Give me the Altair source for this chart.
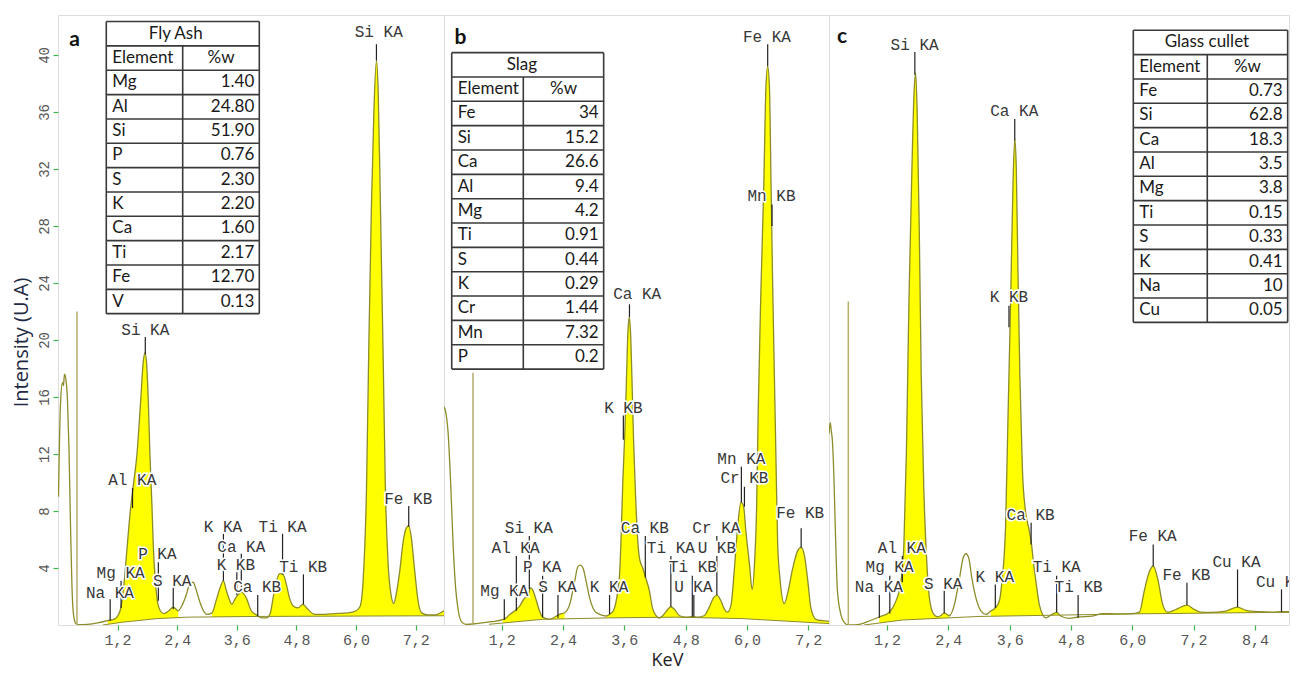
import altair as alt
import pandas as pd

YMAX = 42.8
H = 610
RH = 1.708
GREEN = "#3db54a"
YELLOW = "#ffff00"
OLIVE = "#8c8c2a"
MONO = "Liberation Mono"
SANS = "Lato"

# ---------------- spectra (keV, intensity) ----------------
A_SPEC = [(0.01, 9.0), (0.05, 15.5), (0.09, 17.0), (0.11, 16.8), (0.13, 17.6), (0.16, 17.2), (0.19, 15.8),
          (0.22, 12.5), (0.25, 7.3), (0.28, 2.8), (0.31, 0.8), (0.35, 0.15), (0.40, 0.02), (0.60, 0.05),
          (0.80, 0.15), (1.00, 0.3), (1.15, 0.45), (1.25, 1.0), (1.32, 2.6), (1.39, 5.4), (1.45, 7.8),
          (1.52, 9.9), (1.59, 12.0), (1.66, 15.5), (1.72, 18.6), (1.75, 19.1), (1.78, 18.5), (1.82, 15.5),
          (1.85, 12.0), (1.89, 8.5), (1.92, 5.4), (1.96, 3.1), (2.00, 1.7), (2.06, 1.0), (2.13, 0.8),
          (2.23, 1.0), (2.32, 1.25), (2.42, 1.0), (2.50, 1.4), (2.57, 2.0), (2.66, 2.9), (2.72, 3.0),
          (2.77, 2.6), (2.83, 1.9), (2.90, 1.2), (3.00, 0.75), (3.10, 0.85), (3.19, 1.8), (3.26, 2.6),
          (3.33, 3.1), (3.39, 2.4), (3.46, 1.7), (3.50, 1.45), (3.56, 1.8), (3.63, 2.15), (3.69, 2.3),
          (3.79, 1.9), (3.89, 1.0), (4.00, 0.7), (4.10, 0.5), (4.20, 0.5), (4.27, 0.8), (4.33, 1.9),
          (4.40, 3.1), (4.46, 3.6), (4.53, 3.55), (4.60, 2.8), (4.66, 1.9), (4.73, 1.35), (4.83, 1.2),
          (4.93, 1.45), (5.03, 1.1), (5.17, 0.75), (5.37, 0.75), (5.57, 0.8), (5.84, 0.85), (6.00, 1.0),
          (6.08, 1.3), (6.14, 3.0), (6.21, 9.6), (6.26, 20.3), (6.31, 29.5), (6.36, 36.2), (6.41, 39.6),
          (6.445, 37.5), (6.49, 29.5), (6.545, 18.9), (6.59, 9.6), (6.645, 4.3), (6.70, 2.2), (6.76, 1.5),
          (6.81, 2.2), (6.88, 3.8), (6.95, 5.9), (7.01, 6.8), (7.06, 6.95), (7.11, 6.2), (7.18, 3.8),
          (7.25, 1.65), (7.32, 0.85), (7.45, 0.7), (7.58, 0.7), (7.77, 1.0)]

B_SPEC = [(0.07, 15.3), (0.10, 15.0), (0.15, 13.5), (0.20, 10.0), (0.25, 5.5), (0.30, 2.5), (0.35, 1.0),
          (0.42, 0.2), (0.50, 0.05), (0.70, 0.1), (1.00, 0.23), (1.22, 0.37), (1.30, 0.55), (1.36, 0.75),
          (1.45, 0.98), (1.55, 1.33), (1.65, 1.9), (1.71, 2.0), (1.76, 2.6), (1.80, 2.5), (1.88, 1.68),
          (1.94, 0.98), (2.00, 0.55), (2.14, 0.4), (2.27, 0.63), (2.33, 0.75), (2.43, 0.86), (2.53, 1.45),
          (2.63, 3.1), (2.69, 4.1), (2.74, 4.2), (2.79, 4.0), (2.85, 3.1), (2.92, 1.9), (3.02, 0.98),
          (3.12, 0.75), (3.25, 0.63), (3.31, 0.75), (3.38, 0.98), (3.44, 1.7), (3.51, 3.8), (3.54, 6.6),
          (3.57, 10.1), (3.61, 13.6), (3.64, 17.1), (3.67, 20.6), (3.695, 21.6), (3.72, 20.6), (3.75, 17.1),
          (3.78, 13.0), (3.82, 9.0), (3.86, 6.0), (3.90, 4.6), (3.96, 4.0), (4.01, 3.4), (4.09, 2.4),
          (4.15, 1.2), (4.22, 0.65), (4.28, 0.48), (4.35, 0.65), (4.45, 1.1), (4.51, 1.28), (4.58, 1.1),
          (4.68, 0.65), (4.81, 0.55), (4.94, 0.6), (5.03, 0.55), (5.16, 0.65), (5.26, 1.24), (5.35, 1.94),
          (5.41, 2.1), (5.49, 1.7), (5.56, 1.1), (5.62, 0.9), (5.69, 1.45), (5.75, 3.8), (5.82, 7.0),
          (5.88, 8.6), (5.93, 8.4), (5.98, 6.5), (6.05, 4.2), (6.10, 2.5), (6.15, 4.5), (6.19, 8.5),
          (6.22, 15.1), (6.27, 23.1), (6.33, 31.1), (6.37, 37.7), (6.405, 39.2), (6.44, 37.7), (6.47, 31.1),
          (6.50, 24.4), (6.535, 17.7), (6.57, 11.1), (6.60, 5.75), (6.65, 3.1), (6.73, 1.5), (6.80, 2.3),
          (6.89, 3.9), (6.99, 5.2), (7.06, 5.45), (7.12, 4.95), (7.19, 3.1), (7.25, 1.2), (7.35, 0.4),
          (7.48, 0.3), (7.605, 0.25)]

C_SPEC = [(0.065, 13.4), (0.09, 14.2), (0.11, 13.6), (0.13, 13.0), (0.16, 10.5), (0.19, 6.6), (0.23, 2.4),
          (0.30, 0.7), (0.37, 0.15), (0.45, 0.0), (0.66, 0.05), (0.85, 0.28), (1.05, 0.56), (1.245, 0.9),
          (1.37, 1.64), (1.47, 3.0), (1.53, 5.6), (1.58, 12.2), (1.63, 22.8), (1.68, 30.8), (1.73, 37.4),
          (1.76, 38.7), (1.79, 36.1), (1.83, 28.1), (1.87, 17.5), (1.92, 9.6), (1.98, 4.3), (2.03, 1.9),
          (2.10, 0.84), (2.18, 0.58), (2.25, 0.65), (2.32, 0.85), (2.42, 0.65), (2.52, 1.45), (2.615, 3.2),
          (2.69, 4.7), (2.745, 5.0), (2.80, 4.7), (2.86, 3.3), (2.94, 1.9), (3.04, 0.98), (3.14, 0.74),
          (3.23, 0.98), (3.32, 1.2), (3.40, 1.7), (3.45, 3.1), (3.52, 6.9), (3.57, 14.9), (3.62, 22.8),
          (3.665, 30.8), (3.70, 34.1), (3.73, 32.1), (3.76, 25.5), (3.80, 17.5), (3.85, 10.9), (3.91, 8.0),
          (3.98, 6.7), (4.03, 5.6), (4.06, 4.6), (4.12, 2.9), (4.18, 1.45), (4.25, 0.7), (4.31, 0.5),
          (4.41, 0.7), (4.52, 0.88), (4.60, 0.63), (4.77, 0.47), (4.94, 0.56), (5.22, 0.63), (5.42, 0.8),
          (5.68, 0.78), (6.01, 0.8), (6.14, 0.9), (6.235, 2.4), (6.33, 3.7), (6.41, 4.14), (6.50, 3.2),
          (6.595, 1.45), (6.69, 0.9), (6.76, 0.95), (6.89, 1.15), (7.07, 1.4), (7.21, 1.1), (7.34, 0.9),
          (7.51, 0.88), (7.83, 0.98), (8.06, 1.26), (8.22, 1.03), (8.48, 0.93), (8.75, 0.9), (8.92, 0.93),
          (9.20, 0.93)]

# background (continuum) lines
A_BG = [(0.9, 0.0), (1.3, 0.2), (2.0, 0.45), (2.6, 0.55), (4.0, 0.6), (7.77, 0.65)]
B_BG = [(0.95, 0.05), (2.0, 0.4), (3.3, 0.5), (4.6, 0.55), (5.9, 0.45), (7.605, 0.1)]
C_BG = [(0.75, 0.0), (1.5, 0.35), (3.0, 0.6), (6.0, 0.78), (9.2, 0.9)]

# energy ranges filled in yellow
A_FILL = [(0.95, 2.47), (3.02, 7.77)]
B_FILL = [(1.1, 2.45), (3.2, 7.61)]
C_FILL = [(0.95, 2.45), (3.15, 9.2)]

# zero-peak marker (keV, height)
A_ZERO = (0.382, 22.0)
B_ZERO = (0.637, 17.7)
C_ZERO = (0.443, 22.7)

# peak labels: text, text x, text y, marker x, marker bottom, marker top
A_LAB = [("Na KA", 1.045, 2.27, 1.05, 0.3, 1.8), ("Mg KA", 1.26, 3.63, 1.27, 1.2, 3.1),
         ("Al KA", 1.495, 10.2, 1.50, 8.2, 9.6), ("Si KA", 1.757, 20.7, 1.757, 19.0, 20.2),
         ("P KA", 2.0, 5.0, 2.02, 1.7, 4.4), ("S KA", 2.30, 3.1, 2.32, 1.1, 2.6),
         ("K KA", 3.32, 6.9, 3.33, 3.1, 6.4), ("Ca KA", 3.69, 5.5, 3.69, 2.3, 5.0),
         ("K KB", 3.58, 4.2, 3.60, 2.1, 3.7), ("Ca KB", 4.01, 2.7, 4.02, 0.6, 2.1),
         ("Ti KA", 4.52, 6.9, 4.52, 3.55, 6.4), ("Ti KB", 4.935, 4.07, 4.94, 1.45, 3.55),
         ("Fe KB", 7.05, 8.87, 7.06, 6.9, 8.35), ("Si KA", 6.457, 41.6, 6.41, 39.6, 40.75)]
B_LAB = [("Mg KA", 1.25, 2.39, 1.25, 0.35, 1.8), ("Al KA", 1.47, 5.42, 1.486, 1.0, 4.85),
         ("Si KA", 1.73, 6.78, 1.74, 2.5, 6.25), ("P KA", 1.99, 4.04, 2.0, 0.55, 3.45),
         ("S KA", 2.29, 2.67, 2.30, 0.5, 2.1), ("K KA", 3.30, 2.67, 3.31, 0.75, 2.1),
         ("K KB", 3.58, 15.25, 3.58, 13.0, 14.7), ("Ca KA", 3.85, 23.25, 3.70, 21.6, 22.5),
         ("Ca KB", 4.0, 6.78, 4.01, 3.33, 6.25), ("Ti KA", 4.51, 5.42, 4.51, 1.28, 4.85),
         ("Ti KB", 4.94, 4.04, 4.93, 0.6, 3.45), ("U KA", 4.95, 2.67, 4.96, 0.6, 2.1),
         ("U KB", 5.41, 5.42, 5.41, 2.1, 4.85), ("Cr KA", 5.40, 6.78, 5.41, 5.9, 6.25),
         ("Mn KA", 5.89, 11.67, 5.89, 8.6, 11.1), ("Cr KB", 5.95, 10.3, 5.95, 8.3, 9.7),
         ("Mn KB", 6.48, 30.1, 6.49, 28.0, 29.5), ("Fe KA", 6.39, 41.26, 6.405, 39.2, 40.75),
         ("Fe KB", 7.04, 7.84, 7.06, 5.42, 6.78)]
C_LAB = [("Na KA", 1.04, 2.67, 1.05, 0.5, 2.1), ("Mg KA", 1.25, 4.04, 1.255, 0.8, 3.45),
         ("Al KA", 1.49, 5.38, 1.50, 3.0, 4.85), ("Si KA", 1.74, 40.7, 1.745, 38.6, 40.2),
         ("S KA", 2.30, 2.9, 2.32, 0.8, 2.4), ("K KA", 3.31, 3.35, 3.32, 1.2, 2.85),
         ("K KB", 3.587, 23.0, 3.587, 20.9, 22.4), ("Ca KA", 3.69, 36.07, 3.70, 34.0, 35.5),
         ("Ca KB", 4.01, 7.72, 4.02, 5.65, 7.17), ("Ti KA", 4.52, 4.07, 4.52, 0.88, 3.45),
         ("Ti KB", 4.95, 2.67, 4.94, 0.5, 2.1), ("Fe KA", 6.40, 6.25, 6.41, 4.13, 5.65),
         ("Fe KB", 7.06, 3.51, 7.07, 1.4, 2.97), ("Cu KA", 8.04, 4.42, 8.06, 1.26, 3.9),
         ("Cu KB", 8.89, 3.04, 8.92, 0.93, 2.5)]

# composition tables
A_TITLE = "Fly Ash"
A_EL = ["Mg", "Al", "Si", "P", "S", "K", "Ca", "Ti", "Fe", "V"]
A_VAL = ["1.40", "24.80", "51.90", "0.76", "2.30", "2.20", "1.60", "2.17", "12.70", "0.13"]
B_TITLE = "Slag"
B_EL = ["Fe", "Si", "Ca", "Al", "Mg", "Ti", "S", "K", "Cr", "Mn", "P"]
B_VAL = ["34", "15.2", "26.6", "9.4", "4.2", "0.91", "0.44", "0.29", "1.44", "7.32", "0.2"]
C_TITLE = "Glass cullet"
C_EL = ["Fe", "Si", "Ca", "Al", "Mg", "Ti", "S", "K", "Na", "Cu"]
C_VAL = ["0.73", "62.8", "18.3", "3.5", "3.8", "0.15", "0.33", "0.41", "10", "0.05"]

# table placement (left, split, right, top, title x) in panel data units
A_TPOS = (0.972, 2.510, 4.052, 42.34, 2.37)
B_TPOS = (0.221, 1.622, 3.195, 40.16, 1.596)
C_TPOS = (6.02, 7.468, 9.041, 41.73, 7.46)

Y_TICKS = [4, 8, 12, 16, 20, 24, 28, 32, 36, 40]
X_TICKS = [1.2, 2.4, 3.6, 4.8, 6.0, 7.2, 8.4]
LABEL_EXPR = "replace(format(datum.value, '.1f'), '.', ',')"


def panel(spec, bg, segs, labels, zero, title, els, vals, tpos, letter, lpos, xdom, width, yaxis, xaxis):
    sdf = pd.DataFrame(spec, columns=["e", "i"])
    sdf["seg"] = -1
    for k, (s0, s1) in enumerate(segs):
        sdf.loc[(sdf.e >= s0) & (sdf.e <= s1), "seg"] = k
    fdf = sdf[sdf.seg >= 0]
    bdf = pd.DataFrame(bg, columns=["e", "b"])
    ldf = pd.DataFrame(labels, columns=["t", "tx", "ty", "lx", "lo", "hi"])
    zdf = pd.DataFrame([{"e": zero[0], "lo": 0.0, "hi": zero[1]}])

    xs = alt.Scale(domain=list(xdom), nice=False, zero=False)
    ys = alt.Scale(domain=[0, YMAX], nice=False)

    def X(f):
        return alt.X(f"{f}:Q", scale=xs, axis=xaxis)

    def Y(f):
        return alt.Y(f"{f}:Q", scale=ys, axis=yaxis)

    fill = alt.Chart(fdf).mark_area(color=YELLOW, interpolate="monotone", clip=True).encode(
        x=X("e"), y=alt.Y("i:Q", scale=ys, axis=yaxis, stack=False), detail="seg:N")
    white = alt.Chart(bdf).mark_area(color="white", clip=True).encode(x=X("e"), y=Y("b"))
    bgl = alt.Chart(bdf).mark_line(color=OLIVE, strokeWidth=1, clip=True).encode(x=X("e"), y=Y("b"))
    line = alt.Chart(sdf).mark_line(color=OLIVE, strokeWidth=1.3, interpolate="monotone", clip=True).encode(
        x=X("e"), y=Y("i"))
    zr = alt.Chart(zdf).mark_rule(color="#b4ad6c", strokeWidth=1.5).encode(x=X("e"), y=Y("lo"), y2="hi:Q")
    mk = alt.Chart(ldf).mark_rule(color="#222222", strokeWidth=1.2).encode(x=X("lx"), y=Y("lo"), y2="hi:Q")
    halo = alt.Chart(ldf).mark_text(font=MONO, fontSize=16, stroke="white", strokeWidth=3,
                                    color="white", clip=True).encode(x=X("tx"), y=Y("ty"), text="t:N")
    txt = alt.Chart(ldf).mark_text(font=MONO, fontSize=16, color="#383838", clip=True).encode(
        x=X("tx"), y=Y("ty"), text="t:N")

    # table
    left, split, right, top, tx = tpos
    nrows = len(els) + 2
    bottom = top - nrows * RH
    hl = pd.DataFrame({"x": [left] * (nrows + 1), "x2": [right] * (nrows + 1),
                       "y": [top - k * RH for k in range(nrows + 1)]})
    vl = pd.DataFrame({"x": [left, right, split], "y": [top, top, top - RH], "y2": [bottom] * 3})
    box = pd.DataFrame([{"x": left, "x2": right, "y": top, "y2": bottom}])
    cen = pd.DataFrame({"x": [tx, (split + right) / 2], "y": [top - 0.5 * RH, top - 1.5 * RH],
                        "t": [title, "%w"]})
    lft = pd.DataFrame({"x": [left] * (len(els) + 1),
                        "y": [top - (k + 1.5) * RH for k in range(len(els) + 1)],
                        "t": ["Element"] + els})
    rgt = pd.DataFrame({"x": [right] * len(vals),
                        "y": [top - (k + 2.5) * RH for k in range(len(vals))], "t": vals})

    tb = alt.Chart(box).mark_rect(color="white").encode(x=X("x"), x2="x2:Q", y=Y("y"), y2="y2:Q")
    th = alt.Chart(hl).mark_rule(color="#3a3a3a", strokeWidth=1.6).encode(x=X("x"), x2="x2:Q", y=Y("y"))
    tv = alt.Chart(vl).mark_rule(color="#3a3a3a", strokeWidth=1.6).encode(x=X("x"), y=Y("y"), y2="y2:Q")
    tc = alt.Chart(cen).mark_text(font=SANS, fontSize=17, color="#1a1a1a").encode(
        x=X("x"), y=Y("y"), text="t:N")
    tl = alt.Chart(lft).mark_text(font=SANS, fontSize=17, color="#1a1a1a", align="left", dx=6).encode(
        x=X("x"), y=Y("y"), text="t:N")
    tr = alt.Chart(rgt).mark_text(font=SANS, fontSize=17, color="#1a1a1a", align="right", dx=-5).encode(
        x=X("x"), y=Y("y"), text="t:N")

    let = alt.Chart(pd.DataFrame([{"x": lpos[0], "y": lpos[1], "t": letter}])).mark_text(
        font=SANS, fontSize=21, fontWeight="bold", color="#111111", baseline="alphabetic").encode(
        x=X("x"), y=Y("y"), text="t:N")

    return alt.layer(fill, white, bgl, line, zr, mk, halo, txt, tb, th, tv, tc, tl, tr, let).properties(
        width=width, height=H)


def xaxis(ticks, **kw):
    return alt.Axis(values=ticks, labelExpr=LABEL_EXPR, tickSize=5, tickColor=GREEN, tickWidth=1.2,
                    labelPadding=2, labelFont=MONO, labelFontSize=15, labelColor="#555555",
                    domain=False, grid=False, **kw)


YAX = alt.Axis(values=Y_TICKS, labelAngle=270, labelAlign="center", labelBaseline="bottom",
               labelPadding=2, labelFont=MONO, labelFontSize=14, labelColor="#555555",
               tickSize=5, tickColor=GREEN, tickWidth=1.2, domain=False, grid=False,
               title="Intensity (U.A)", titleFont="Open Sans", titleFontSize=20, titleFontWeight="normal",
               titleColor="#1f2a44", titleAngle=270, titleX=-37, titleY=327, titleAlign="center",
               titleBaseline="middle")

pa = panel(A_SPEC, A_BG, A_FILL, A_LAB, A_ZERO, A_TITLE, A_EL, A_VAL, A_TPOS, "a", (0.332, 40.63),
           (0.0, 7.77), 386, YAX, xaxis(X_TICKS[:6], title=None))
pb = panel(B_SPEC, B_BG, B_FILL, B_LAB, B_ZERO, B_TITLE, B_EL, B_VAL, B_TPOS, "b", (0.393, 40.77),
           (0.07, 7.605), 385, None,
           xaxis(X_TICKS[:6], title="KeV", titleFont="Open Sans", titleFontSize=18, titleFontWeight="normal",
                 titleColor="#222222", titleX=223, titleY=40, titleAlign="center", titleBaseline="alphabetic"))
pc = panel(C_SPEC, C_BG, C_FILL, C_LAB, C_ZERO, C_TITLE, C_EL, C_VAL, C_TPOS, "c", (0.319, 40.84),
           (0.065, 9.067), 460, None, xaxis(X_TICKS, title=None))

chart = alt.hconcat(pa, pb, pc, spacing=0, bounds="flush").properties(
    padding={"left": 2, "top": 6, "right": 0, "bottom": 0}
).configure_view(stroke=GREEN, strokeWidth=1.5).configure(background="white")

chart.save("out.html", embed_options={"renderer": "svg", "actions": False})
